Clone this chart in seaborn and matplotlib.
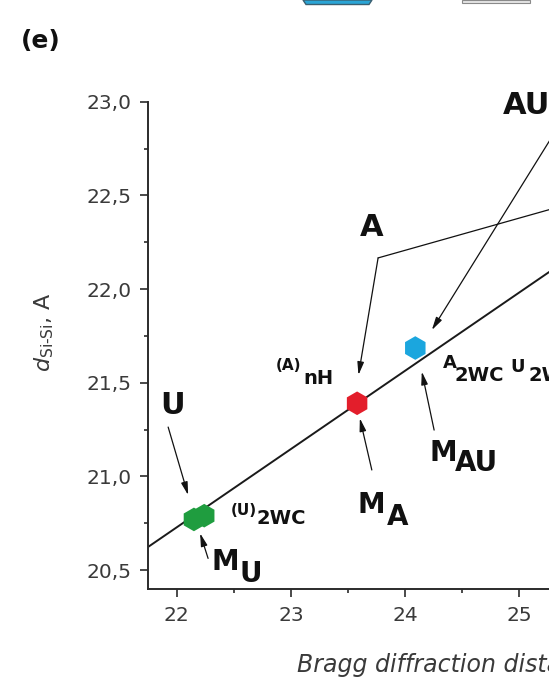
import matplotlib
matplotlib.use("Agg")
import numpy as np
import pandas as pd
import seaborn as sns
import matplotlib.pyplot as plt
from matplotlib.ticker import MultipleLocator, FuncFormatter
from matplotlib.patches import Polygon

# ---------------- data ----------------
sample = ["U", "U", "A", "AU"]
bragg_distance = [22.15, 22.24, 23.58, 24.09]
d_si_si = [20.77, 20.79, 21.39, 21.685]
palette = {"U": "#1f9d3f", "A": "#e31e2b", "AU": "#1ba6de"}

fit_slope = 0.4176
fit_intercept = 11.541

x_limits = (21.75, 27.0)
y_limits = (20.397, 23.0)
x_ticks = [22, 23, 24, 25]
y_ticks = [20.5, 21.0, 21.5, 22.0, 22.5, 23.0]

# ---------------- figure ----------------
W, H = 549, 686
sns.set_theme(style="ticks")
plt.rcParams["font.family"] = ["DejaVu Sans"]
plt.rcParams["mathtext.fontset"] = "dejavusans"

fig = plt.figure(figsize=(W / 100, H / 100), dpi=100)
fig.patch.set_facecolor("white")

ax_left_px, ax_bottom_px, ax_top_px = 148.3, 589.3, 101.7
px_per_x = 114.1
ax = fig.add_axes([ax_left_px / W, (H - ax_bottom_px) / H,
                   (x_limits[1] - x_limits[0]) * px_per_x / W,
                   (ax_bottom_px - ax_top_px) / H])
ax.set_facecolor("white")

# fit line
ax.axline((0, fit_intercept), slope=fit_slope, color="#1a1a1a", lw=1.4, zorder=2)

df = pd.DataFrame({"bragg": bragg_distance, "d": d_si_si, "sample": sample})
sns.scatterplot(data=df, x="bragg", y="d", hue="sample", palette=palette,
                marker="h", s=290, linewidth=0, legend=False, ax=ax, zorder=3)

ax.set_xlim(*x_limits)
ax.set_ylim(*y_limits)
ax.set_xticks(x_ticks)
ax.set_yticks(y_ticks)
ax.xaxis.set_minor_locator(MultipleLocator(0.5))
ax.yaxis.set_minor_locator(MultipleLocator(0.25))
ax.yaxis.set_major_formatter(FuncFormatter(lambda v, p: f"{v:.1f}".replace(".", ",")))
ax.xaxis.set_major_formatter(FuncFormatter(lambda v, p: f"{v:.0f}"))

for s in ["top", "right"]:
    ax.spines[s].set_visible(False)
for s in ["left", "bottom"]:
    ax.spines[s].set_color("#2b2b2b")
    ax.spines[s].set_linewidth(1.4)

ax.tick_params(which="major", direction="out", length=6, width=1.2,
               color="#2b2b2b", labelsize=14.5, labelcolor="#3a3a3a", pad=6)
ax.tick_params(which="minor", direction="out", length=3, width=1.2, color="#2b2b2b")

# axis labels
ax.set_ylabel("$d_{\\mathrm{Si\u2010Si}}$, A", fontsize=16, color="#3a3a3a")
ax.yaxis.set_label_coords(44 / W, 1 - 332 / H, transform=fig.transFigure)
ax.yaxis.label.set(va="center", ha="center")

ax.set_xlabel("Bragg diffraction distance, A", fontsize=17, style="italic", color="#3a3a3a")
ax.xaxis.set_label_coords(297 / W, 1 - 665 / H, transform=fig.transFigure)
ax.xaxis.label.set(ha="left", va="center")


# ---------------- annotations ----------------
def T(s, px, py, size, weight="bold"):
    base = py + 0.3645 * size * 100 / 72
    fig.text(px / W, 1 - base / H, s, ha="left", va="baseline",
             fontsize=size, fontweight=weight, color="#111111")


fig.text(21 / W, 1 - (39 + 0.3645 * 18 * 100 / 72) / H, "(e)", ha="left",
         va="baseline", fontsize=18, fontweight="bold", color="#111111")

T("AU", 503, 103, 22)
T("A", 360, 225, 22)
T("U", 160, 403, 22)

T("(A)", 276, 364, 11)
T("nH", 303, 377, 14)

T("A", 443, 361.5, 13)
T("2WC", 455, 374, 14)
T("U", 510, 365, 13)
T("2WC", 529, 374, 14)

T("(U)", 231, 509, 11)
T("2WC", 257, 517, 14)

T("M", 212, 560, 20)
T("U", 240, 572, 20)

T("M", 358, 502.5, 20)
T("A", 387, 515, 20)

T("M", 429, 451, 20)
T("AU", 455, 461, 20)

arrow = dict(arrowstyle="-|>,head_length=0.55,head_width=0.14", color="#111111",
             lw=0.9, shrinkA=0, shrinkB=0, mutation_scale=14)
plain = dict(arrowstyle="-", color="#111111", lw=0.9, shrinkA=0, shrinkB=0)

arrows = [
    ((21.924, 21.263), (22.099, 20.900)),   # U
    ((22.274, 20.562), (22.204, 20.696)),   # M_U
    ((23.709, 21.034), (23.604, 21.310)),   # M_A
    ((24.255, 21.247), (24.147, 21.559)),   # M_AU
    ((23.764, 22.166), (23.592, 21.541)),   # A bracket down
    ((25.369, 22.892), (24.235, 21.781)),   # AU
]
for start, tip in arrows:
    ax.annotate("", xy=tip, xytext=start, arrowprops=arrow, annotation_clip=False)
ax.annotate("", xy=(26.15, 22.576), xytext=(23.764, 22.166), arrowprops=plain,
            annotation_clip=False)

# fragments of the neighbouring panel at the top edge
fig.add_artist(Polygon([(303 / W, 1.0), (372 / W, 1.0), (369 / W, 1 - 4.5 / H), (306 / W, 1 - 4.5 / H)],
                       closed=True, transform=fig.transFigure, facecolor="#2aa5d6",
                       edgecolor="#3b5f70", lw=1.0))
fig.add_artist(Polygon([(462 / W, 1.0), (530 / W, 1.0), (530 / W, 1 - 2.5 / H), (462 / W, 1 - 2.5 / H)],
                       closed=True, transform=fig.transFigure, facecolor="#e6e6e6",
                       edgecolor="#8a8a8a", lw=0.8))

fig.savefig("out.png", dpi=100)
